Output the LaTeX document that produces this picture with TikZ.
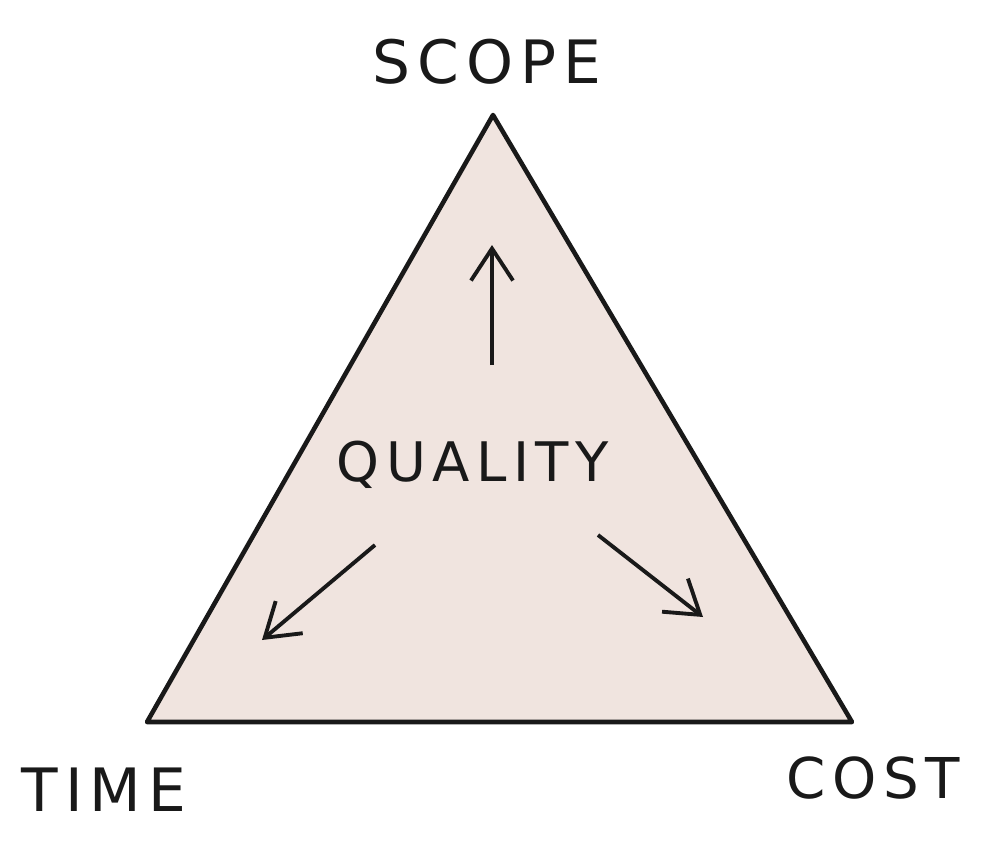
\documentclass[tikz,border=0pt]{standalone}
\usepackage{fontspec}
\newfontfamily\handfont[LetterSpace=12]{DejaVu Sans}
\usetikzlibrary{
  arrows.meta
}
\definecolor{paper}{RGB}{240,228,223}
\definecolor{ink}{RGB}{25,25,25}

\begin{document}
\begin{tikzpicture}[
  x=0.01cm, y=0.01cm,
  edge/.style={draw=ink, line width=1.3pt, line join=round},
  push/.style={draw=ink, line width=1.1pt, -{Straight Barb[length=3.2mm,width=4.2mm]}},
  word/.style={font=\handfont\fontsize{17}{17}\selectfont, text=ink, inner sep=0pt},
]
\useasboundingbox (0,0) rectangle (1000,841);
% corners of the triangle
\coordinate (top) at (493,726);
\coordinate (left) at (147,119);
\coordinate (right) at (852,119);
\fill[paper] (top) -- (right) -- (left) -- cycle;
\draw[edge] (top) -- (right) -- (left) -- cycle;
% labels
\node[word] (scope) at (487,779) {SCOPE};
\node[word] (time) at (104,51) {TIME};
\node[word, font=\handfont\fontsize{16}{16}\selectfont] (cost) at (873,63) {COST};
\node[word, font=\handfont\fontsize{15.5}{16}\selectfont] (quality) at (473,376) {QUALITY};
% arrows out of quality
\coordinate (up-s) at (492,476);
\coordinate (up-e) at (492,596);
\coordinate (lt-s) at (375,296);
\coordinate (lt-e) at (262,201);
\coordinate (rt-s) at (598,306);
\coordinate (rt-e) at (703,224);
\draw[push] (up-s) -- (up-e);
\draw[push] (lt-s) -- (lt-e);
\draw[push] (rt-s) -- (rt-e);
\end{tikzpicture}
\end{document}
